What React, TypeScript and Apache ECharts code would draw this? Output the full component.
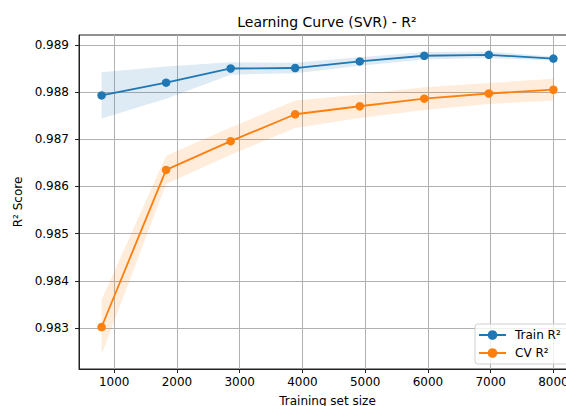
import React, { useEffect, useRef } from "react";
import * as echarts from "echarts";

const trainSizes = [800, 1828, 2857, 3885, 4914, 5942, 6971, 8000];
const trainMean = [0.98793, 0.9882, 0.9885, 0.98851, 0.98865, 0.98877, 0.98879, 0.98871];
const trainStd = [0.00049, 0.00034, 0.00013, 0.00011, 0.00009, 0.00008, 0.00007, 0.00004];
const cvMean = [0.98302, 0.98635, 0.98696, 0.98753, 0.9877, 0.98786, 0.98797, 0.98805];
const cvStd = [0.00058, 0.0003, 0.00029, 0.00029, 0.00025, 0.00024, 0.00022, 0.00023];
const xTicks = [1000, 2000, 3000, 4000, 5000, 6000, 7000, 8000];
const yTicks = [0.983, 0.984, 0.985, 0.986, 0.987, 0.988, 0.989];

const FONT = "DejaVu Sans";
const BLUE = "#1f77b4";
const ORANGE = "#ff7f0e";

export default function App() {
  const ref = useRef<HTMLDivElement>(null);
  useEffect(() => {
    if (!ref.current) return;
    const chart = echarts.init(ref.current, null, { renderer: "svg" });
    const pair = (xs: number[], ys: number[]) => xs.map((x, i) => [x, ys[i]]);
    const bandSeries = (name: string, m: number[], s: number[], color: string) => {
      const rows = trainSizes.map((x, i) => [x, m[i] - s[i], m[i] + s[i]]);
      return {
        name,
        type: "custom",
        silent: true,
        z: 1,
        data: rows,
        encode: { x: 0, y: [1, 2] },
        renderItem: (params: any, api: any) => {
          if (params.dataIndex !== 0) return null;
          const upper = rows.map((r) => api.coord([r[0], r[2]]));
          const lower = rows.map((r) => api.coord([r[0], r[1]])).reverse();
          return {
            type: "polygon",
            shape: { points: [...upper, ...lower] },
            style: { fill: color },
          };
        },
      };
    };
    const fmtX = (v: number) => (Math.abs(v / 1000 - Math.round(v / 1000)) < 1e-6 ? String(v) : "");
    const fmtY = (v: number) =>
      Math.abs(v * 1000 - Math.round(v * 1000)) < 1e-6 ? v.toFixed(3) : "";
    chart.setOption({
      animation: false,
      backgroundColor: "#ffffff",
      textStyle: { fontFamily: FONT },
      grid: {
        left: 79,
        top: 35,
        width: 497,
        bottom: 37,
        containLabel: false,
        outerBoundsMode: "none",
        show: true,
        borderColor: "#222",
        borderWidth: 1,
        backgroundColor: "transparent",
      },
      graphic: [
        {
          type: "text",
          x: 327,
          y: 22,
          style: {
            text: "Learning Curve (SVR) - R²",
            font: `14px "${FONT}"`,
            fill: "#000",
            textAlign: "center",
            textVerticalAlign: "middle",
          },
        },
      ],
      legend: {
        data: ["Train R²", "CV R²"],
        orient: "vertical",
        left: 475,
        top: 324,
        padding: [5, 8, 5, 3],
        itemWidth: 27,
        itemHeight: 12,
        itemGap: 6,
        backgroundColor: "rgba(255,255,255,0.8)",
        borderColor: "#d0d0d0",
        borderWidth: 1,
        borderRadius: 3,
        textStyle: { fontFamily: FONT, fontSize: 12, color: "#000", padding: [0, 0, 0, 4] },
      },
      xAxis: {
        type: "value",
        min: 440,
        max: 8360,
        minInterval: 1000,
        maxInterval: 1000,
        splitNumber: 8,
        name: "Training set size",
        nameLocation: "middle",
        nameGap: 26,
        nameTextStyle: { fontFamily: FONT, fontSize: 12, color: "#000" },
        axisLine: { show: true, onZero: false, lineStyle: { color: "#222", width: 1 } },
        axisTick: { show: true, length: 4, customValues: xTicks, lineStyle: { color: "#222" } },
        axisLabel: {
          fontFamily: FONT,
          fontSize: 12,
          color: "#000",
          margin: 7,
          customValues: xTicks,
          formatter: fmtX,
        },
        splitLine: { show: true, lineStyle: { color: "#b0b0b0", width: 1 } },
      },
      yAxis: {
        type: "value",
        min: 0.98213,
        max: 0.98921,
        minInterval: 0.001,
        maxInterval: 0.001,
        name: "R² Score",
        nameLocation: "middle",
        nameGap: 53,
        nameRotate: 90,
        nameTextStyle: { fontFamily: FONT, fontSize: 12, color: "#000" },
        axisLine: { show: true, onZero: false, lineStyle: { color: "#222", width: 1 } },
        axisTick: { show: true, length: 4, customValues: yTicks, lineStyle: { color: "#222" } },
        axisLabel: {
          fontFamily: FONT,
          fontSize: 12,
          color: "#000",
          margin: 10,
          customValues: yTicks,
          formatter: fmtY,
        },
        splitLine: { show: true, lineStyle: { color: "#b0b0b0", width: 1 } },
      },
      series: [
        bandSeries("trainBand", trainMean, trainStd, "rgba(31,119,180,0.15)"),
        bandSeries("cvBand", cvMean, cvStd, "rgba(255,127,14,0.15)"),
        {
          name: "Train R²",
          type: "line",
          data: pair(trainSizes, trainMean),
          symbol: "circle",
          symbolSize: 8.5,
          itemStyle: { color: BLUE },
          lineStyle: { color: BLUE, width: 1.8 },
          z: 3,
        },
        {
          name: "CV R²",
          type: "line",
          data: pair(trainSizes, cvMean),
          symbol: "circle",
          symbolSize: 8.5,
          itemStyle: { color: ORANGE },
          lineStyle: { color: ORANGE, width: 1.8 },
          z: 3,
        },
      ],
    });
    return () => chart.dispose();
  }, []);
  return <div ref={ref} style={{ width: 566, height: 406, position: "absolute", left: 0, top: 0 }} />;
}
